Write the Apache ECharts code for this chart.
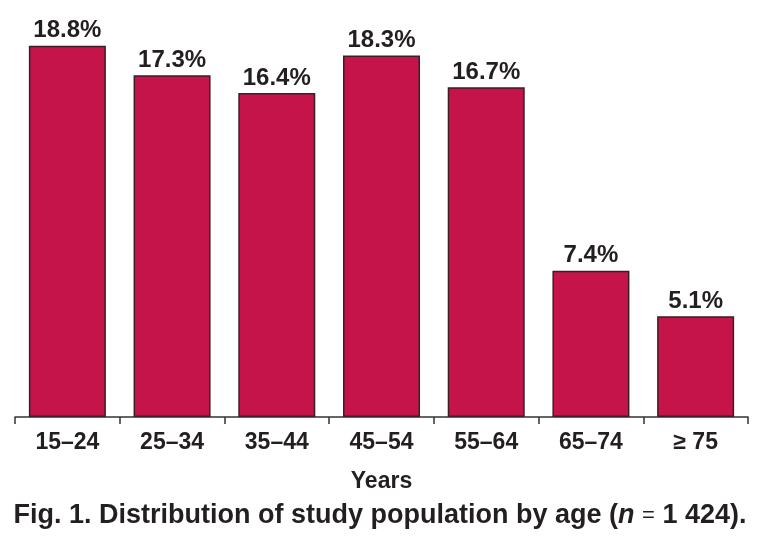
<!DOCTYPE html>
<html><head><meta charset="utf-8">
<script src="https://cdn.jsdelivr.net/npm/echarts@6/dist/echarts.min.js"></script>
<style>html,body{margin:0;padding:0;background:#fff}#c{width:760px;height:557px}</style>
</head><body><div id="c"></div>
<script>
var categories = ['15–24','25–34','35–44','45–54','55–64','65–74','≥ 75'];
var values = [18.8, 17.3, 16.4, 18.3, 16.7, 7.4, 5.1];
var xAxisTitle = 'Years';
var FONT = '"Liberation Sans", Arial, Helvetica, sans-serif';
var chart = echarts.init(document.getElementById('c'), null, {renderer:'canvas'});
chart.setOption({
  animation:false,
  backgroundColor:'#fff',
  title:{
    text:'Fig. 1. Distribution of study population by age ({i|n} {eq|=} 1 424).',
    left:'center', top:497,
    textStyle:{fontFamily:FONT,fontWeight:'bold',fontSize:27,color:'#231f20',
      rich:{i:{fontFamily:FONT,fontWeight:'bold',fontStyle:'italic',fontSize:27,color:'#231f20'},
            eq:{fontFamily:FONT,fontWeight:'normal',fontSize:22,color:'#231f20'}}}
  },
  grid:{left:15,right:12,top:22,bottom:140,containLabel:false},
  xAxis:{
    type:'category', data:categories,
    name:xAxisTitle, nameLocation:'middle', nameGap:53,
    nameTextStyle:{fontFamily:FONT,fontWeight:'bold',fontSize:23,color:'#231f20'},
    axisLine:{lineStyle:{color:'#333',width:1.5}},
    axisTick:{show:true,length:7,lineStyle:{color:'#333',width:1.5}},
    axisLabel:{fontFamily:FONT,fontWeight:'bold',fontSize:23,color:'#231f20',margin:14}
  },
  yAxis:{type:'value',min:0,max:20,show:false,splitLine:{show:false}},
  series:[{
    type:'bar', data:values, barWidth:77,
    itemStyle:{color:'#C4144A',borderColor:'#3a1e24',borderWidth:1.5},
    label:{show:true,position:'top',distance:3,formatter:function(p){return p.value.toFixed(1)+'%';},
      fontFamily:FONT,fontWeight:'bold',fontSize:24,color:'#231f20'}
  }]
});
</script></body></html>
